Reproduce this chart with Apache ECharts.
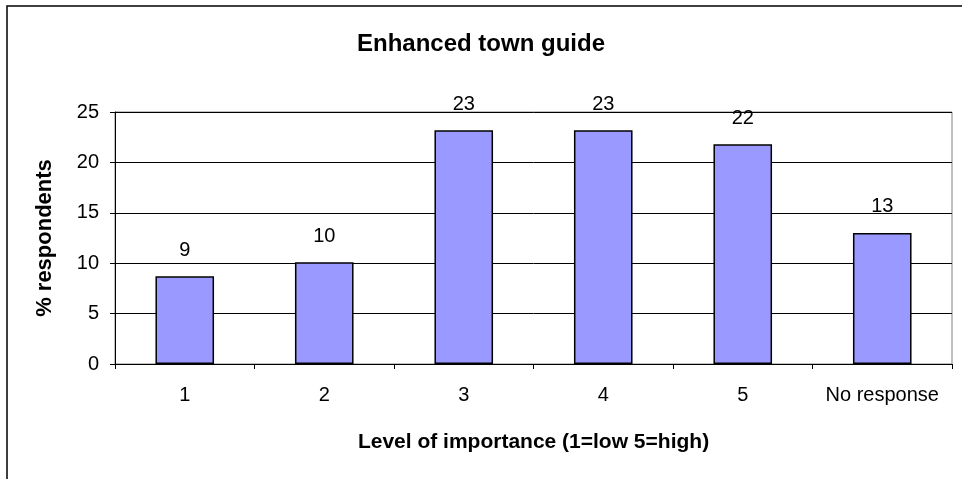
<!DOCTYPE html>
<html>
<head>
<meta charset="utf-8">
<script src="https://cdn.jsdelivr.net/npm/echarts@6/dist/echarts.min.js"></script>
<style>
  html, body { margin: 0; padding: 0; background: #fff; }
  #chartBox { width: 962px; height: 479px; }
</style>
</head>
<body>
<div id="chartBox"></div>
<script>
// categories on the x axis
var categories = ['1', '2', '3', '4', '5', 'No response']
// % respondents per level
var respondents = [8.7, 10.1, 23.2, 23.2, 21.8, 13.0]
// y axis ticks
var yMin = 0
var yMax = 25
var yStep = 5

var myChart = echarts.init(document.getElementById('chartBox'))
myChart.setOption({
  animation: false,
  textStyle: { fontFamily: 'Liberation Sans, Arial, sans-serif' },
  title: {
    text: 'Enhanced town guide',
    left: 'center',
    top: 27,
    textStyle: { fontSize: 24, fontWeight: 'bold', color: '#000' }
  },
  graphic: [{
    type: 'rect',
    shape: { x: 7, y: 6, width: 1000, height: 600 },
    style: { fill: 'none', stroke: '#000', lineWidth: 1.5 },
    silent: true
  }],
  grid: {
    left: 115,
    right: 10,
    top: 112,
    bottom: 115,
    show: true,
    borderColor: '#808080',
    borderWidth: 1
  },
  xAxis: {
    type: 'category',
    data: categories,
    name: 'Level of importance (1=low 5=high)',
    nameLocation: 'middle',
    nameGap: 68,
    nameTextStyle: { fontSize: 21, fontWeight: 'bold', color: '#000' },
    axisLine: { lineStyle: { color: '#000', width: 1 } },
    axisTick: { show: true, length: 5, lineStyle: { color: '#000' } },
    axisLabel: { interval: 0, fontSize: 20, color: '#000', margin: 21 }
  },
  yAxis: {
    type: 'value',
    min: yMin,
    max: yMax,
    interval: yStep,
    name: '% respondents',
    nameLocation: 'middle',
    nameGap: 59,
    nameRotate: 90,
    nameTextStyle: { fontSize: 22, fontWeight: 'bold', color: '#000' },
    axisLine: { show: true, lineStyle: { color: '#000', width: 1 } },
    axisTick: { show: true, length: 5, lineStyle: { color: '#000' } },
    axisLabel: { fontSize: 20, color: '#000', margin: 16 },
    splitLine: { show: true, lineStyle: { color: '#000', width: 1 } }
  },
  series: [{
    type: 'bar',
    data: respondents,
    barWidth: '42%',
    itemStyle: {
      color: '#9999FF',
      borderColor: '#000',
      borderWidth: 1.5
    },
    label: {
      show: true,
      position: 'top',
      distance: 16,
      fontSize: 20,
      color: '#000',
      formatter: function (p) {
        return Math.round(p.value)
      }
    }
  }]
})
</script>
</body>
</html>
